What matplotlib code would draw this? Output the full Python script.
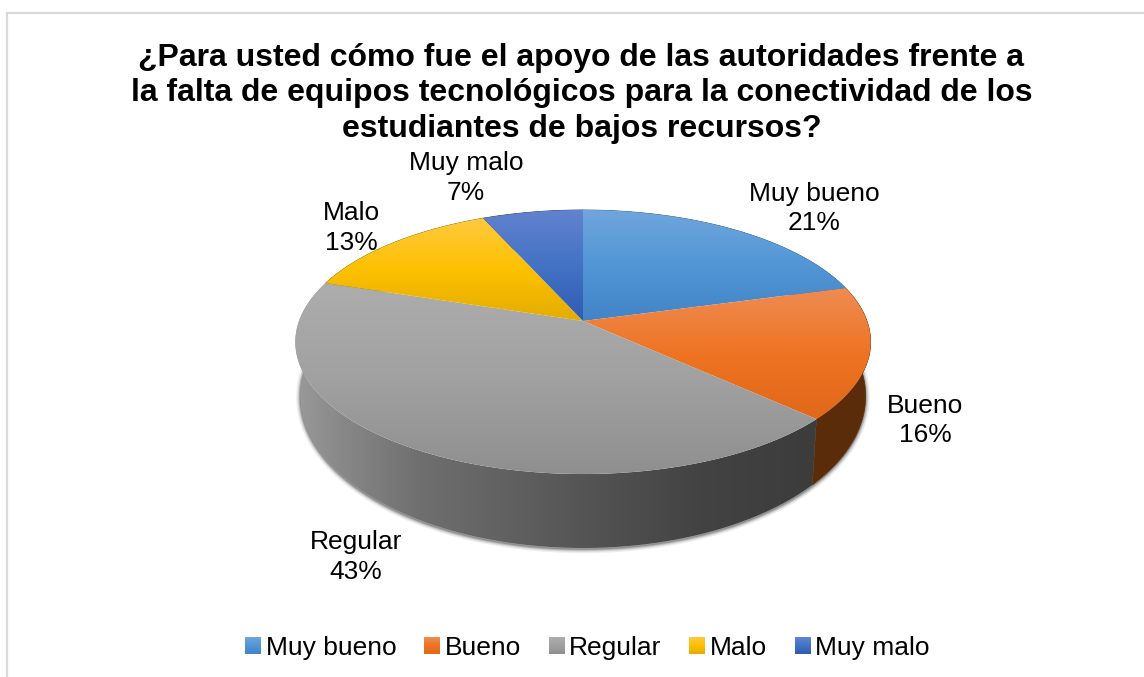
import numpy as np
import matplotlib
matplotlib.use('Agg')
import matplotlib.pyplot as plt
from matplotlib.colors import to_rgb
from matplotlib.patches import Polygon, Patch
from matplotlib.image import BboxImage
from matplotlib.transforms import Bbox, TransformedBbox
from matplotlib.legend_handler import HandlerBase

plt.rcParams['font.family'] = ['Liberation Sans', 'DejaVu Sans']

title = ('¿Para usted cómo fue el apoyo de las autoridades frente a\n'
         'la falta de equipos tecnológicos para la conectividad de los\n'
         'estudiantes de bajos recursos?')
categories = ['Muy bueno', 'Bueno', 'Regular', 'Malo', 'Muy malo']
shares = [20.7, 16.2, 43.1, 13.4, 6.6]

# light / base / dark stops of each slice, then the colour of its side
top_colors = [['#70a6dc', '#5296d6', '#4284c5'],
              ['#ee8c54', '#ee7423', '#e2681a'],
              ['#adadad', '#a1a1a1', '#8f8f8f'],
              ['#ffc93f', '#fdc100', '#e3ac00'],
              ['#6283cf', '#4472c4', '#2f5cb3']]
side_colors = ['#2c5a88', '#5b2c0a', '#555555', '#8a6a00', '#223a66']
grey_side_x = [296, 330, 420, 600, 700, 815]
grey_side_v = ['#9a9a9a', '#8c8c8c', '#6f6f6f', '#525252', '#434343', '#3c3c3c']
label_xy = [(814, 208.5), (925, 420.5), (356, 557), (351, 228), (466, 178)]

fig = plt.figure(figsize=(11.44, 6.77), dpi=100)
ax = fig.add_axes([0, 0, 1, 1])


def ramp(colors, n=256):
    c = np.array([to_rgb(k) for k in colors])
    t = np.linspace(0, 1, n)
    pos = np.linspace(0, 1, len(colors))
    return np.stack([np.interp(t, pos, c[:, i]) for i in range(3)], axis=1)


def project(theta, cy, a, b, k=0.159, cx=583):
    u, v = np.sin(theta), np.cos(theta)
    w = 1 + k * v
    return cx + a * u / w, cy - b * v / w


def top_arc(theta):
    return project(theta, 321, 284, 128.7)


def low_arc(theta):
    return project(theta, 372, 279, 148)


def paint(xy, img, z):
    xs, ys = xy[:, 0], xy[:, 1]
    poly = Polygon(xy, closed=True, fc='none', ec='none', transform=ax.transData)
    ax.add_patch(poly)
    im = ax.imshow(img, extent=(xs.min(), xs.max(), ys.max(), ys.min()),
                   aspect='auto', interpolation='bilinear', zorder=z)
    im.set_clip_path(poly)


edges = np.cumsum([0] + shares) / sum(shares) * 2 * np.pi

# soft shadow round the body
full = np.linspace(0, 2 * np.pi, 400)
sx, sy = low_arc(full)
for lw, al in [(6, 0.07), (4, 0.10), (2.5, 0.14), (1.2, 0.2)]:
    ax.add_patch(Polygon(np.column_stack([sx, sy + 1]), closed=True, fc='none',
                         ec='black', lw=lw, alpha=al, zorder=1))

# sides
for i in range(len(shares)):
    th = np.linspace(edges[i], edges[i + 1], 150)
    tx, ty = top_arc(th)
    lx, ly = low_arc(th)
    xy = np.column_stack([np.r_[tx, lx[::-1]], np.r_[ty, ly[::-1]]])
    if categories[i] == 'Regular':
        xs = np.linspace(xy[:, 0].min(), xy[:, 0].max(), 256)
        rgb = np.array([to_rgb(k) for k in grey_side_v])
        img = np.stack([np.interp(xs, grey_side_x, rgb[:, j]) for j in range(3)], axis=1)
        paint(xy, img[None, :, :], 2)
    else:
        ax.add_patch(Polygon(xy, closed=True, fc=side_colors[i], ec=side_colors[i],
                             lw=0.5, zorder=2))

# top face
for i in range(len(shares)):
    th = np.linspace(edges[i], edges[i + 1], 150)
    tx, ty = top_arc(th)
    xy = np.column_stack([np.r_[583, tx], np.r_[321, ty]])
    paint(xy, ramp(top_colors[i])[:, None, :], 3)

for name, val, (lx, ly) in zip(categories, shares, label_xy):
    ax.text(lx, ly, f'{name}\n{round(val)}%', ha='center', va='center', fontsize=19,
            color='black', linespacing=1.28, zorder=5)

ax.text(581.5, 93.5, title, ha='center', va='center', fontsize=23.05, fontweight='bold',
        color='black', linespacing=1.25, zorder=5)


class GradientSwatch(HandlerBase):
    def __init__(self, colors):
        super().__init__()
        self.colors = colors

    def create_artists(self, legend, orig_handle, xdescent, ydescent, width, height,
                       fontsize, trans):
        box = Bbox([[-xdescent, -ydescent], [width - xdescent, height - ydescent]])
        img = BboxImage(TransformedBbox(box, trans), interpolation='bilinear')
        img.set_data(ramp(self.colors, 32)[:, None, :])
        return [img]


handles = [Patch(label=n) for n in categories]
hmap = {h: GradientSwatch(c) for h, c in zip(handles, top_colors)}
ax.legend(handles=handles, handler_map=hmap, ncol=5, frameon=False, fontsize=19,
          loc='center', bbox_to_anchor=(587.5, 648), bbox_transform=ax.transData,
          handlelength=0.57, handleheight=0.57, handletextpad=0.2,
          columnspacing=1.06, borderpad=0, borderaxespad=0)

# chart area border, cut by the picture edge on the right and bottom
ax.plot([7, 7, 1144], [677, 13, 13], color='#d9d9d9', lw=1.6, solid_joinstyle='miter', zorder=0)

ax.set_xlim(0, 1144)
ax.set_ylim(677, 0)
ax.axis('off')
fig.savefig('out.png', dpi=100)
